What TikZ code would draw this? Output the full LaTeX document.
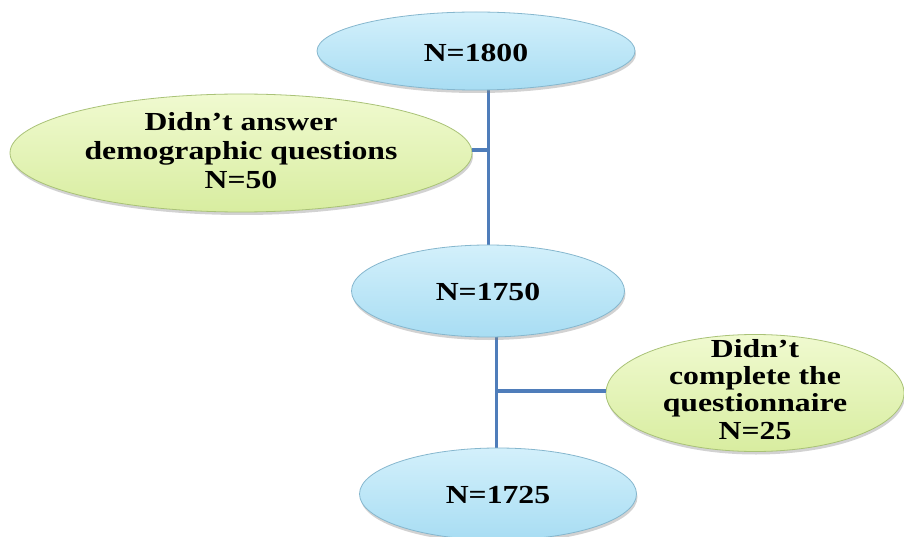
\documentclass[tikz,border=0pt]{standalone}
\usepackage{fontspec}
\setmainfont{Liberation Serif}
\usetikzlibrary{shapes.geometric,shadows}
\definecolor{bluefillA}{HTML}{D3F0FB}
\definecolor{bluefillB}{HTML}{A8DDF3}
\definecolor{blueline}{HTML}{86B7CE}
\definecolor{greenfillA}{HTML}{F0FAD0}
\definecolor{greenfillB}{HTML}{D8EDA0}
\definecolor{greenline}{HTML}{A9C277}
\definecolor{conn}{HTML}{4F7DBA}
\newcommand{\wtxt}[1]{\scalebox{1.22}[1]{\begin{tabular}[t]{@{}c@{}}#1\end{tabular}}}
\tikzset{
  bluebox/.style={ellipse, draw=blueline, line width=0.8pt, top color=bluefillA, bottom color=bluefillB,
    drop shadow={shadow xshift=1pt, shadow yshift=-3pt, opacity=0.35}, inner sep=0pt},
  greenbox/.style={ellipse, draw=greenline, line width=0.8pt, top color=greenfillA, bottom color=greenfillB,
    drop shadow={shadow xshift=1pt, shadow yshift=-3pt, opacity=0.35}, inner sep=0pt},
  txt/.style={font=\fontsize{26}{28}\selectfont\bfseries, inner sep=0pt, anchor=base},
  conline/.style={draw=conn, line width=3.5pt}
}
\begin{document}
\begin{tikzpicture}[x=1pt,y=-1pt]
\useasboundingbox[fill=white] (0,0) rectangle (904,537);
\coordinate (s1) at (488.5,0);
\coordinate (s2) at (496.5,0);
\draw[conline] (s1 |- 0,60) -- (s1 |- 0,270);
\draw[conline] (s2 |- 0,300) -- (s2 |- 0,480);
\node[bluebox, minimum width=318pt, minimum height=78pt] (n1800) at (476,51) {};
\node[txt] (t1800) at (476,61.5) {\wtxt{N=1800}};
\node[greenbox, minimum width=462pt, minimum height=118pt] (dem) at (241,153) {};
\node[txt, font=\fontsize{26}{29}\selectfont\bfseries] (tdem) at (241,131) {\wtxt{Didn’t answer\\demographic questions\\N=50}};
\node[bluebox, minimum width=273pt, minimum height=92pt] (n1750) at (488,291) {};
\node[txt] (t1750) at (488,300.5) {\wtxt{N=1750}};
\node[greenbox, minimum width=298pt, minimum height=117pt] (comp) at (755,393) {};
\node[txt, font=\fontsize{26}{27.4}\selectfont\bfseries] (tcomp) at (755,357) {\wtxt{Didn’t\\complete the\\questionnaire\\N=25}};
\node[bluebox, minimum width=277pt, minimum height=92pt] (n1725) at (498,494) {};
\node[txt] (t1725) at (498,503) {\wtxt{N=1725}};
\draw[conline] (dem.east |- 0,150) -- (s1 |- 0,150);
\draw[conline] (s2 |- 0,391) -- (comp.west |- 0,391);
\end{tikzpicture}
\end{document}
